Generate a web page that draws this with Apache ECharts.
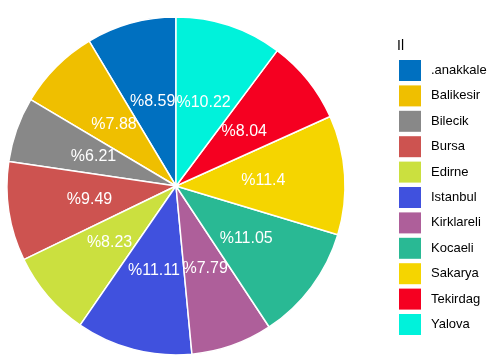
<!DOCTYPE html>
<html><head><meta charset="utf-8">
<script src="https://cdn.jsdelivr.net/npm/echarts@6/dist/echarts.min.js"></script>
<style>html,body{margin:0;padding:0;background:#fff}#c{width:497px;height:358px}</style>
</head><body><div id="c"></div>
<script>
var categories = ['.anakkale','Balikesir','Bilecik','Bursa','Edirne','Istanbul','Kirklareli','Kocaeli','Sakarya','Tekirdag','Yalova'];
var values = [8.59, 7.88, 6.21, 9.49, 8.23, 11.11, 7.79, 11.05, 11.4, 8.04, 10.22];
var colors = ['#0070C0','#EFBF00','#888888','#CD5350','#CBE03F','#4051DE','#AE5F9A','#29B994','#F5D500','#F50021','#00F2DB'];
var legendTitle = 'Il';

var chart = echarts.init(document.getElementById('c'), null, {renderer:'canvas'});
chart.setOption({
  animation: false,
  color: colors,
  title: {text: legendTitle, left: 392, top: 34, textStyle:{fontSize:14, fontWeight:'normal', color:'#000', fontFamily:'Liberation Sans, Arial'}},
  legend: {
    orient: 'vertical', left: 399, top: 60, padding: 0, height: 298,
    icon: 'path://M0 0H22V21H0Z', itemWidth: 22, itemHeight: 21, itemGap: 4.4,
    itemStyle: {borderWidth: 0},
    data: categories,
    textStyle: {fontSize: 13, color:'#000', fontFamily:'Liberation Sans, Arial', padding:[0,0,0,5]}
  },
  series: [{
    type: 'pie',
    center: [176, 186],
    radius: [0, 169],
    startAngle: 90,
    clockwise: false,
    data: categories.map(function(n,i){return {name:n, value:values[i]};}),
    itemStyle: {borderColor:'#fff', borderWidth:1.5},
    label: {show:true, position:'inside', formatter:'%{c}', color:'#fff', fontSize:16, fontFamily:'Liberation Sans, Arial', textBorderWidth:0},
    labelLine: {show:false},
    emphasis: {disabled:true}
  }]
});
</script></body></html>
